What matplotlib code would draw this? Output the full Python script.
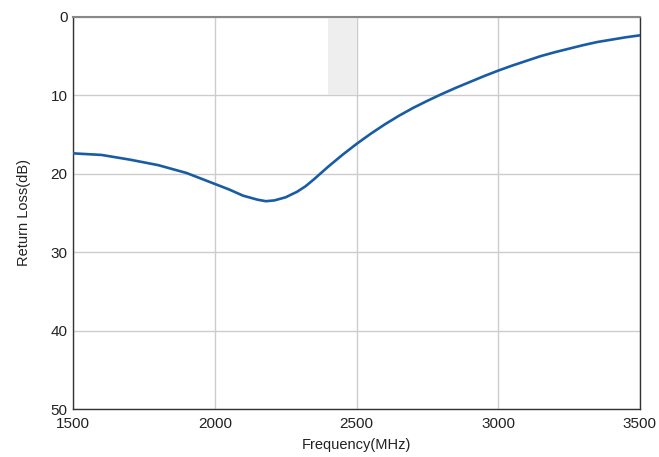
import matplotlib
matplotlib.use('Agg')
import matplotlib.pyplot as plt

# values
freq = [1500, 1600, 1700, 1800, 1900, 1950, 2000, 2050, 2100, 2150, 2180,
        2210, 2250, 2290, 2320, 2350, 2400, 2450, 2500, 2550, 2600, 2650,
        2700, 2750, 2800, 2850, 2900, 2950, 3000, 3050, 3100, 3150, 3200,
        3250, 3300, 3350, 3400, 3450, 3500]
rl = [17.4, 17.6, 18.2, 18.9, 19.9, 20.6, 21.3, 22.0, 22.8, 23.3, 23.5,
      23.4, 23.0, 22.3, 21.6, 20.7, 19.1, 17.6, 16.2, 14.9, 13.7, 12.6,
      11.6, 10.7, 9.85, 9.05, 8.3, 7.55, 6.85, 6.2, 5.6, 5.0, 4.5,
      4.05, 3.6, 3.2, 2.9, 2.6, 2.35]

band = [2400, 2500]
band_depth = 10
xticks = [1500, 2000, 2500, 3000, 3500]
yticks = [0, 10, 20, 30, 40, 50]

plt.rcParams['font.family'] = ['Liberation Sans', 'DejaVu Sans']

fig = plt.figure(figsize=(6.59, 4.57), dpi=100)
ax = fig.add_axes([0.111, 0.105, 0.860, 0.858])

ax.fill_between(band, 0, band_depth, color='#eeeeee', zorder=1, linewidth=0)
ax.plot(freq, rl, color='#1a5ca4', linewidth=1.9, zorder=3,
        solid_joinstyle='round')

ax.set_xlim(1500, 3500)
ax.set_ylim(50, 0)
ax.set_xticks(xticks)
ax.set_yticks(yticks)
ax.grid(True, color='#cccccc', linewidth=1.0, zorder=0)
ax.set_axisbelow(True)
ax.tick_params(length=0, labelsize=11, colors='#222222')
ax.tick_params(axis='x', pad=5.5)
ax.tick_params(axis='y', pad=4)

for s in ['left', 'bottom', 'right']:
    ax.spines[s].set_color('#333333')
    ax.spines[s].set_linewidth(1.0)
ax.spines['top'].set_color('#888888')
ax.spines['top'].set_linewidth(1.5)

ax.set_xlabel('Frequency(MHz)', fontsize=10.5, color='#222222', labelpad=5)
ax.set_ylabel('Return Loss(dB)', fontsize=10.5, color='#222222', labelpad=14)

fig.savefig('out.png', dpi=100)
